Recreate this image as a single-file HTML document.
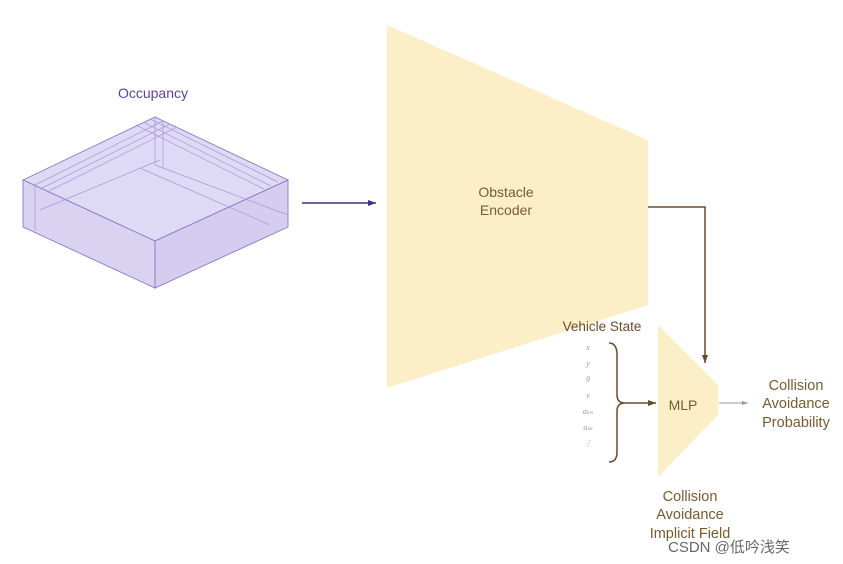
<!DOCTYPE html>
<html><head><style>
body{margin:0;background:#fff;}
svg{display:block;font-family:"Liberation Sans",sans-serif;}
</style></head><body>
<svg width="843" height="564" viewBox="0 0 843 564">
<defs>
<marker id="a1" markerUnits="userSpaceOnUse" markerWidth="10" markerHeight="10" refX="9" refY="5" orient="auto"><path d="M1,2 L9,5 L1,8z" fill="#3e2f8a"/></marker>
<marker id="a2" markerUnits="userSpaceOnUse" markerWidth="10" markerHeight="10" refX="9" refY="5" orient="auto"><path d="M1,2 L9,5 L1,8z" fill="#6b4a2a"/></marker>
<marker id="a3" markerUnits="userSpaceOnUse" markerWidth="8" markerHeight="8" refX="7" refY="4" orient="auto"><path d="M1,2 L7,4 L1,6z" fill="#999"/></marker>
</defs>
<text x="153" y="98" font-size="14" fill="#5b3f9e" text-anchor="middle">Occupancy</text>
<g stroke="#8a78c8" stroke-width="0.9" fill="#d8d2f2" fill-opacity="0.85">
<path d="M23,180 L155,117 L288,180 L155,241 Z"/>
<path d="M23,180 L155,241 L155,288 L23,227 Z" fill="#d2cbef"/>
<path d="M155,241 L288,180 L288,227 L155,288 Z" fill="#ccc4ec"/>
</g>
<g stroke="#a898d8" stroke-width="0.7" fill="none">
<path d="M35,185 L163,121 M42,188 L170,124 M49,191 L177,127"/>
<path d="M150,119 L278,182 M143,122 L271,186 M136,125 L264,189"/>
<path d="M155,117 L155,165 M163,121 L163,168"/>
<path d="M35,185 L35,231 M140,168 L270,225 M40,210 L160,160 M155,165 L288,215"/>
</g>
<line x1="302" y1="203" x2="376" y2="203" stroke="#3e2f8a" stroke-width="1.5" marker-end="url(#a1)"/>
<path d="M387,25 L648,140 L648,305 L387,388 Z" fill="#fcefc8"/>
<text x="506" y="197" font-size="14" fill="#7a5a2e" text-anchor="middle">Obstacle</text>
<text x="506" y="215" font-size="14" fill="#7a5a2e" text-anchor="middle">Encoder</text>
<path d="M648,207 L705,207 L705,363" fill="none" stroke="#6b4a2a" stroke-width="1.5" marker-end="url(#a2)"/>
<path d="M658,325 L718,385 L718,415 L658,477 Z" fill="#fcefc8"/>
<text x="683" y="410" font-size="14" fill="#7a5a2e" text-anchor="middle">MLP</text>
<text x="602" y="331" font-size="13.5" fill="#6b4a2a" text-anchor="middle">Vehicle State</text>
<g font-size="8" fill="#999" font-family="Liberation Serif,serif" font-style="italic" text-anchor="middle">
<text x="588" y="350">x</text><text x="588" y="366">y</text><text x="588" y="382">θ</text><text x="588" y="398">v</text>
<text x="588" y="414">a<tspan font-size="5">lon</tspan></text><text x="588" y="430">a<tspan font-size="5">lat</tspan></text>
<text x="588" y="446">⋮</text></g>
<path d="M609,343 Q617,343 617,355 L617,395 Q617,403 625,403 Q617,403 617,411 L617,452 Q617,462 609,462" fill="none" stroke="#6b4a2a" stroke-width="1.5"/>
<line x1="625" y1="403" x2="656" y2="403" stroke="#6b4a2a" stroke-width="1.5" marker-end="url(#a2)"/>
<line x1="719" y1="403" x2="748" y2="403" stroke="#999" stroke-width="1" marker-end="url(#a3)"/>
<g font-size="14.5" fill="#7a5a2e" text-anchor="middle">
<text x="796" y="390">Collision</text><text x="796" y="408">Avoidance</text><text x="796" y="427">Probability</text>
<text x="690" y="501">Collision</text><text x="690" y="519">Avoidance</text><text x="690" y="538">Implicit Field</text>
</g>
<text x="668" y="552" font-size="15" fill="#fff" stroke="#fff" stroke-width="3" font-family="Liberation Sans,Noto Sans CJK SC,sans-serif">CSDN @低吟浅笑</text>
<text x="668" y="552" font-size="15" fill="#666" font-family="Liberation Sans,Noto Sans CJK SC,sans-serif">CSDN @低吟浅笑</text>
</svg>
</body></html>
